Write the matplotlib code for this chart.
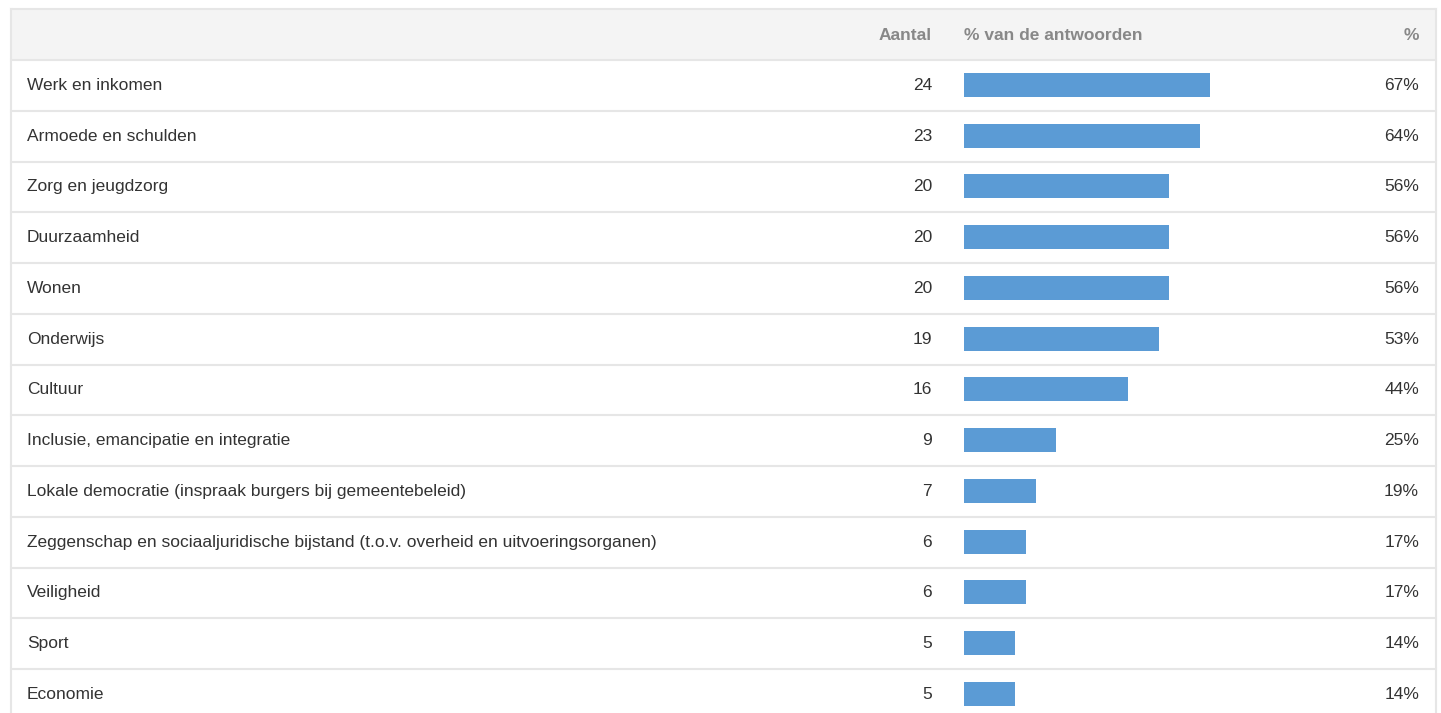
import matplotlib.pyplot as plt
import matplotlib as mpl

mpl.rcParams['font.family'] = ['Liberation Sans', 'DejaVu Sans']

categories = ["Werk en inkomen",
              "Armoede en schulden",
              "Zorg en jeugdzorg",
              "Duurzaamheid",
              "Wonen",
              "Onderwijs",
              "Cultuur",
              "Inclusie, emancipatie en integratie",
              "Lokale democratie (inspraak burgers bij gemeentebeleid)",
              "Zeggenschap en sociaaljuridische bijstand (t.o.v. overheid en uitvoeringsorganen)",
              "Veiligheid",
              "Sport",
              "Economie"]
aantal = [24, 23, 20, 20, 20, 19, 16, 9, 7, 6, 6, 5, 5]
procent = [67, 64, 56, 56, 56, 53, 44, 25, 19, 17, 17, 14, 14]
totaal = 36  # aantal respondenten
headers = ["Aantal", "% van de antwoorden", "%"]

W, H = 1441, 713
fig = plt.figure(figsize=(W / 100, H / 100), dpi=100)
ax = fig.add_axes([0, 0, 1, 1])
ax.set_xlim(0, W)
ax.set_ylim(H, 0)
ax.axis("off")

# layout in pixels
left, right = 10.5, 1435.5
top, head_bottom = 9, 60
row_h = 50.75
bar_x0 = 964
bar_full = 369  # pixels for 100%
line_col = "#e6e6e6"
txt_col = "#333333"
fs = 12.5

# header
ax.add_patch(plt.Rectangle((left, top), right - left, head_bottom - top,
                           facecolor="#f4f4f4", edgecolor="none", zorder=0))
hy = (top + head_bottom) / 2 + 0.5
ax.text(932, hy, headers[0], ha="right", va="center", fontsize=fs,
        fontweight="bold", color="#888888")
ax.text(bar_x0, hy, headers[1], ha="left", va="center", fontsize=fs,
        fontweight="bold", color="#888888")
ax.text(1419, hy, headers[2], ha="right", va="center", fontsize=fs,
        fontweight="bold", color="#888888")

# outer borders
ax.plot([left, right], [top, top], color=line_col, lw=1.5, zorder=3)
ax.plot([left, left], [top, H], color=line_col, lw=1.5, zorder=3)
ax.plot([right, right], [top, H], color=line_col, lw=1.5, zorder=3)

ys = []
for i, (cat, n, p) in enumerate(zip(categories, aantal, procent)):
    y0 = head_bottom + i * row_h
    yc = y0 + row_h / 2
    ys.append(yc - 0.5)
    ax.plot([left, right], [y0, y0], color=line_col, lw=1.5, zorder=3)
    ax.text(27, yc, cat, ha="left", va="center", fontsize=fs, color=txt_col)
    ax.text(932, yc, str(n), ha="right", va="center", fontsize=fs, color=txt_col)
    ax.text(1419, yc, f"{p}%", ha="right", va="center", fontsize=fs, color=txt_col)

ax.barh(ys, [n / totaal * bar_full for n in aantal], left=bar_x0, height=24,
        color="#5b9bd5", zorder=2)

fig.savefig("out.png", dpi=100)
